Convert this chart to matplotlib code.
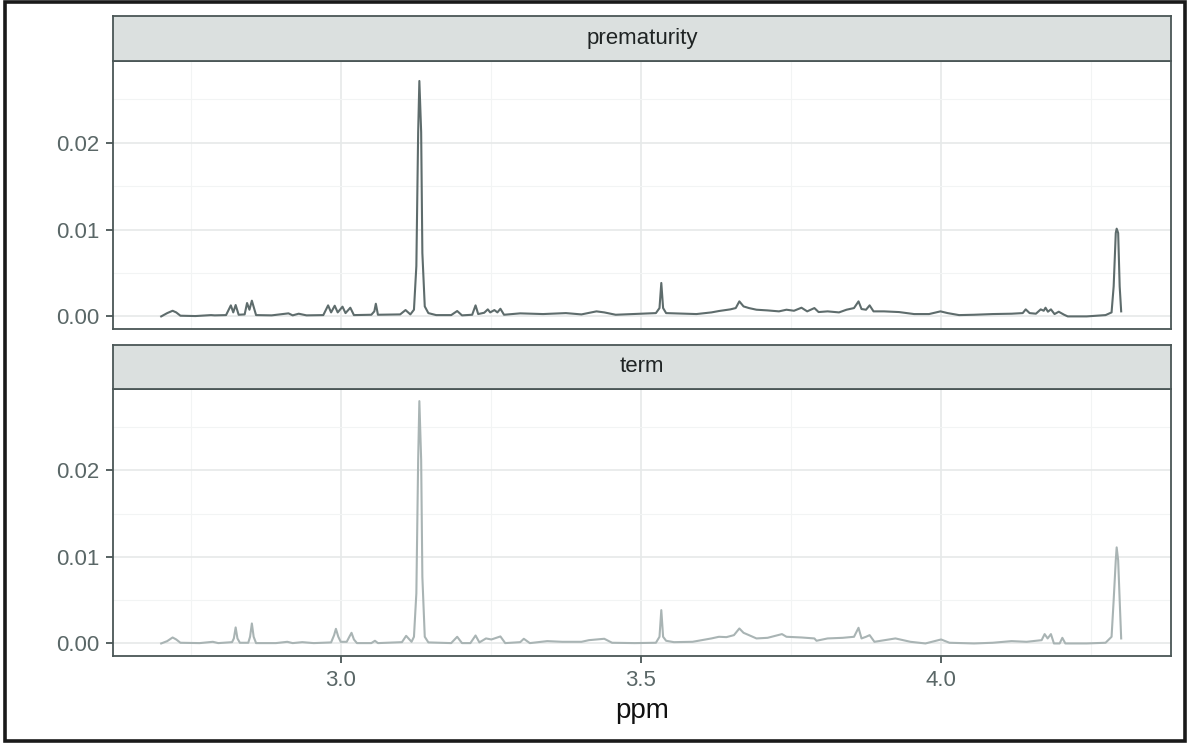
import matplotlib
matplotlib.use('Agg')

import matplotlib.pyplot as plt
import numpy as np
from matplotlib.patches import Rectangle
from matplotlib.ticker import MultipleLocator

plt.rcParams['font.family'] = ['Liberation Sans', 'DejaVu Sans']

# spectrum vertices (ppm, intensity in units of 1e-3)
prem_ppm = [2.701, 2.711, 2.720, 2.726, 2.733, 2.758, 2.784, 2.790, 2.809, 2.817,
            2.821, 2.825, 2.830, 2.840, 2.844, 2.848, 2.852, 2.859, 2.885, 2.913,
            2.920, 2.930, 2.943, 2.971, 2.979, 2.984, 2.990, 2.995, 3.003, 3.008,
            3.016, 3.022, 3.051, 3.056, 3.0585, 3.062, 3.099, 3.108, 3.116, 3.122,
            3.126, 3.129, 3.131, 3.134, 3.136, 3.140, 3.146, 3.159, 3.184, 3.194,
            3.202, 3.219, 3.2246, 3.229, 3.239, 3.245, 3.249, 3.256, 3.261, 3.266,
            3.272, 3.299, 3.337, 3.375, 3.401, 3.426, 3.439, 3.458, 3.503, 3.525,
            3.531, 3.534, 3.537, 3.542, 3.555, 3.5925, 3.6175, 3.630, 3.649, 3.658,
            3.664, 3.671, 3.680, 3.6925, 3.711, 3.730, 3.7425, 3.755, 3.7675, 3.777,
            3.789, 3.796, 3.811, 3.830, 3.8425, 3.855, 3.8625, 3.8675, 3.875, 3.881,
            3.8875, 3.905, 3.930, 3.955, 3.980, 3.999, 4.011, 4.030, 4.055, 4.086,
            4.1175, 4.136, 4.141, 4.1475, 4.158, 4.166, 4.171, 4.174, 4.178, 4.183,
            4.189, 4.196, 4.205, 4.211, 4.2425, 4.274, 4.284, 4.2875, 4.291, 4.2925,
            4.295, 4.2975, 4.300]
prem_int = [0.00, 0.38, 0.65, 0.46, 0.08, 0.04, 0.15, 0.12, 0.15, 1.27,
            0.46, 1.31, 0.19, 0.23, 1.54, 0.77, 1.81, 0.15, 0.12, 0.35,
            0.12, 0.31, 0.12, 0.15, 1.27, 0.46, 1.23, 0.46, 1.12, 0.38,
            1.00, 0.15, 0.19, 0.58, 1.46, 0.19, 0.23, 0.73, 0.23, 0.77,
            5.8, 21.2, 27.1, 21.2, 7.3, 1.15, 0.38, 0.15, 0.15, 0.62,
            0.12, 0.19, 1.27, 0.27, 0.42, 0.81, 0.46, 0.73, 0.46, 0.88,
            0.19, 0.35, 0.27, 0.38, 0.23, 0.58, 0.46, 0.19, 0.31, 0.38,
            0.96, 3.85, 0.96, 0.38, 0.35, 0.27, 0.46, 0.62, 0.81, 0.96,
            1.73, 1.15, 0.96, 0.77, 0.69, 0.58, 0.77, 0.65, 1.00, 0.58,
            0.96, 0.50, 0.58, 0.46, 0.77, 0.96, 1.73, 0.85, 0.77, 1.27,
            0.58, 0.58, 0.50, 0.27, 0.27, 0.58, 0.38, 0.15, 0.19, 0.27,
            0.31, 0.38, 0.81, 0.38, 0.31, 0.81, 0.65, 1.00, 0.54, 0.81,
            0.27, 0.54, 0.19, 0.00, 0.00, 0.15, 0.46, 3.46, 9.6, 10.1,
            9.6, 3.46, 0.58]

term_ppm = [2.701, 2.711, 2.720, 2.726, 2.733, 2.765, 2.787, 2.796, 2.819, 2.822,
            2.825, 2.828, 2.832, 2.846, 2.849, 2.852, 2.855, 2.859, 2.892, 2.911,
            2.920, 2.936, 2.955, 2.984, 2.989, 2.992, 2.996, 3.000, 3.010, 3.015,
            3.018, 3.022, 3.027, 3.051, 3.057, 3.062, 3.102, 3.109, 3.118, 3.122,
            3.126, 3.129, 3.131, 3.134, 3.136, 3.140, 3.146, 3.184, 3.194, 3.202,
            3.216, 3.2246, 3.231, 3.242, 3.251, 3.266, 3.274, 3.299, 3.305, 3.315,
            3.344, 3.369, 3.401, 3.4135, 3.439, 3.452, 3.490, 3.525, 3.531, 3.534,
            3.537, 3.542, 3.555, 3.586, 3.6175, 3.630, 3.6425, 3.655, 3.664, 3.671,
            3.680, 3.6925, 3.711, 3.735, 3.7425, 3.7675, 3.789, 3.7925, 3.811, 3.836,
            3.855, 3.8625, 3.8675, 3.875, 3.881, 3.889, 3.924, 3.949, 3.974, 4.000,
            4.014, 4.055, 4.086, 4.1175, 4.1425, 4.1675, 4.1725, 4.1775, 4.183, 4.188,
            4.1975, 4.202, 4.207, 4.2425, 4.274, 4.284, 4.2875, 4.291, 4.2925, 4.295,
            4.2975, 4.300]
term_int = [0.00, 0.27, 0.69, 0.46, 0.08, 0.04, 0.19, 0.04, 0.15, 0.58,
            1.85, 0.58, 0.08, 0.08, 0.77, 2.31, 0.77, 0.04, 0.04, 0.19,
            0.04, 0.15, 0.04, 0.12, 0.96, 1.69, 0.77, 0.19, 0.19, 0.85,
            1.23, 0.46, 0.04, 0.04, 0.31, 0.04, 0.15, 0.88, 0.19, 0.77,
            5.8, 21.2, 28.0, 21.2, 7.7, 0.77, 0.12, 0.04, 0.77, 0.04,
            0.04, 0.92, 0.12, 0.58, 0.46, 0.81, 0.04, 0.15, 0.54, 0.04,
            0.27, 0.19, 0.19, 0.38, 0.54, 0.08, 0.04, 0.08, 0.77, 3.85,
            0.77, 0.31, 0.15, 0.19, 0.58, 0.77, 0.73, 0.96, 1.73, 1.23,
            0.96, 0.58, 0.65, 1.08, 0.77, 0.69, 0.58, 0.31, 0.58, 0.65,
            0.77, 1.81, 0.58, 0.77, 0.96, 0.19, 0.58, 0.19, 0.00, 0.46,
            0.08, 0.00, 0.08, 0.27, 0.19, 0.38, 1.08, 0.58, 1.08, 0.00,
            0.00, 0.65, 0.00, 0.00, 0.08, 0.77, 5.0, 9.6, 11.1, 9.6,
            5.0, 0.58]

panels = ["prematurity", "term"]
line_colors = ["#5e6c6c", "#a9b4b4"]
x_ticks = [3.0, 3.5, 4.0]
y_ticks = [0.00, 0.01, 0.02]
y_labels = ["0.00", "0.01", "0.02"]

W, H = 1188, 743
fig = plt.figure(figsize=(W / 100, H / 100), dpi=100)

def fx(px):
    return px / W

def fy(py):
    return 1 - py / H

left, right = 113, 1171
panel_rows = [(61, 329), (389, 656)]
strip_rows = [(16, 61), (345, 389)]
border_col = "#4a5656"
grid_major = "#e6e9e9"
grid_minor = "#f2f4f4"
tick_col = "#5a6767"

series = [(prem_ppm, prem_int), (term_ppm, term_int)]

for i, name in enumerate(panels):
    top, bot = panel_rows[i]
    ax = fig.add_axes([fx(left), fy(bot), fx(right - left), (bot - top) / H])
    ppm, inten = series[i]
    ax.plot(ppm, np.array(inten) * 1e-3, color=line_colors[i], lw=1.5,
            solid_joinstyle='round', zorder=3)
    ax.set_xlim(2.6207, 4.383)
    ax.set_ylim(-0.00145, 0.0294)
    ax.set_xticks(x_ticks)
    ax.set_yticks(y_ticks)
    ax.set_yticklabels(y_labels)
    ax.xaxis.set_minor_locator(MultipleLocator(0.25))
    ax.yaxis.set_minor_locator(MultipleLocator(0.005))
    ax.grid(which='major', color=grid_major, lw=1.2, zorder=0)
    ax.grid(which='minor', color=grid_minor, lw=0.8, zorder=0)
    ax.set_axisbelow(True)
    ax.tick_params(which='minor', length=0)
    ax.tick_params(which='major', length=5, width=1.3, color=border_col,
                   labelcolor=tick_col, labelsize=16, pad=5)
    for sp in ax.spines.values():
        sp.set_color(border_col)
        sp.set_linewidth(1.3)
    if i == 0:
        ax.tick_params(axis='x', length=0, labelbottom=False)

    s_top, s_bot = strip_rows[i]
    sax = fig.add_axes([fx(left), fy(s_bot), fx(right - left), (s_bot - s_top) / H])
    sax.set_facecolor("#dbe0df")
    sax.set_xticks([])
    sax.set_yticks([])
    for sp in sax.spines.values():
        sp.set_color(border_col)
        sp.set_linewidth(1.3)
    sax.text(0.5, 0.5, name, ha='center', va='center', fontsize=16,
             color="#1f2424", transform=sax.transAxes)

fig.text(fx((left + right) / 2), fy(718), "ppm", ha='center', va='baseline',
         fontsize=20, color="#111111")

# black frame round the whole picture
fig.patches.append(Rectangle((fx(4.5), fy(741)), fx(1184.5 - 4.5), (741 - 1.5) / H,
                             transform=fig.transFigure, fill=False,
                             edgecolor="#1a1a1a", lw=2.6))

plt.savefig('out.png', dpi=100)
